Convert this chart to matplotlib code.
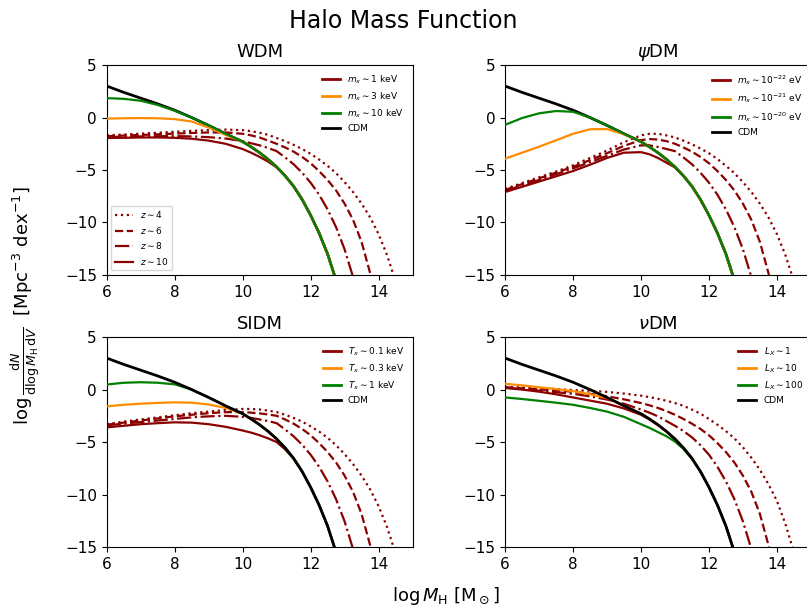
import matplotlib
matplotlib.use("Agg")
import matplotlib.pyplot as plt
from matplotlib.lines import Line2D

# log halo mass grid (each curve uses the first len(y) points)
logM = [6, 6.5, 7, 7.5, 8, 8.5, 9, 9.5, 10, 10.25, 10.5, 10.75, 11, 11.25, 11.5, 11.75,
        12, 12.25, 12.5, 12.75, 13, 13.25, 13.5, 13.75, 14, 14.25, 14.5]

cdm = [3.0, 2.4, 1.85, 1.3, 0.7, 0.0, -0.75, -1.55, -2.3, -2.8, -3.35, -3.98,
       -4.7, -5.55, -6.55, -7.8, -9.3, -11.0, -13.0, -15.5]

# high-mass tails, shared where curves follow CDM at that redshift
tail_z10 = [-4.75, -5.55, -6.55, -7.8, -9.3, -11.0, -13.0, -15.5]          # from 11.0
tail_z8 = [-3.2, -3.8, -4.45, -5.25, -6.2, -7.35, -8.75, -10.45, -12.55, -15.2]  # from 11.0
tail_z6 = [-2.5, -2.85, -3.25, -3.75, -4.35, -5.1, -5.95, -6.95, -8.2, -9.75,
           -11.85, -14.8, -18.5]                                             # from 11.0
tail_z4 = [-4.6, -5.3, -6.15, -7.1, -8.2, -9.5, -11.1, -13.1, -15.6]        # from 12.5

# WDM
wdm_1kev_z10 = [-1.95, -1.93, -1.9, -1.9, -1.93, -2.02, -2.2, -2.5, -3.0, -3.35, -3.75, -4.2] + tail_z10
wdm_1kev_z8 = [-1.85, -1.82, -1.8, -1.78, -1.77, -1.8, -1.87, -2.0, -2.25, -2.45, -2.65, -2.9] + tail_z8
wdm_1kev_z6 = [-1.78, -1.72, -1.66, -1.6, -1.53, -1.47, -1.42, -1.42, -1.55, -1.7, -1.9, -2.2] + tail_z6
wdm_1kev_z4 = [-1.7, -1.62, -1.54, -1.45, -1.36, -1.27, -1.2, -1.15, -1.2, -1.3, -1.45, -1.65,
               -1.95, -2.25, -2.6, -3.0, -3.45, -4.0] + tail_z4
wdm_3kev = [-0.1, -0.07, -0.05, -0.07, -0.15, -0.38, -0.95, -1.65, -2.3] + cdm[9:]
wdm_10kev = [1.85, 1.78, 1.6, 1.2, 0.65, 0.0, -0.75, -1.55, -2.3] + cdm[9:]

# psiDM
psi_22_z10 = [-7.1, -6.6, -6.1, -5.6, -5.1, -4.5, -3.85, -3.35, -3.3, -3.5, -3.85, -4.3] + tail_z10
psi_22_z8 = [-7.0, -6.45, -5.95, -5.4, -4.85, -4.25, -3.65, -3.05, -2.65, -2.65, -2.8, -3.0] + tail_z8
psi_22_z6 = [-6.9, -6.35, -5.8, -5.25, -4.7, -4.05, -3.4, -2.7, -2.15, -2.05, -2.1, -2.25] + tail_z6
psi_22_z4 = [-6.8, -6.25, -5.7, -5.15, -4.55, -3.85, -3.15, -2.35, -1.7, -1.55, -1.55, -1.7,
             -1.9, -2.2, -2.55, -2.95, -3.4, -3.95] + tail_z4
psi_21 = [-3.92, -3.35, -2.78, -2.17, -1.55, -1.12, -1.1, -1.6, -2.3] + cdm[9:]
psi_20 = [-0.7, -0.05, 0.4, 0.62, 0.55, 0.0, -0.75, -1.55, -2.3] + cdm[9:]

# SIDM
sidm_01_z10 = [-3.6, -3.45, -3.3, -3.2, -3.12, -3.15, -3.3, -3.55, -3.9, -4.1, -4.35, -4.65,
               -5.0, -5.7, -6.6] + tail_z10[3:]
sidm_01_z8 = [-3.4, -3.25, -3.1, -2.95, -2.8, -2.65, -2.55, -2.5, -2.6, -2.7, -2.85, -3.0] + tail_z8
sidm_01_z6 = [-3.35, -3.15, -2.95, -2.75, -2.55, -2.4, -2.25, -2.15, -2.15, -2.2, -2.27, -2.37] + tail_z6
sidm_01_z4 = [-3.3, -3.05, -2.85, -2.65, -2.45, -2.25, -2.1, -1.95, -1.85, -1.85, -1.9, -2.0,
              -2.15, -2.4, -2.7, -3.05, -3.5, -4.0] + tail_z4
sidm_03 = [-1.6, -1.45, -1.35, -1.27, -1.22, -1.25, -1.42, -1.75, -2.3] + cdm[9:]
sidm_1 = [0.48, 0.65, 0.7, 0.65, 0.5, 0.0, -0.75, -1.55, -2.3] + cdm[9:]

# nuDM
nu_1_z10 = [0.15, 0.0, -0.2, -0.45, -0.75, -1.05, -1.35, -1.8, -2.4, -2.85, -3.4, -4.0] + tail_z10
nu_1_z8 = [0.2, 0.05, -0.1, -0.25, -0.4, -0.65, -0.95, -1.35, -1.9, -2.2, -2.55, -3.0,
           -3.45, -3.95, -4.55, -5.3, -6.2] + tail_z8[5:]
nu_1_z6 = [0.22, 0.12, 0.02, -0.08, -0.2, -0.4, -0.64, -0.93, -1.28, -1.5, -1.75, -2.05,
           -2.4, -2.8, -3.25, -3.75, -4.35] + tail_z6[5:]
nu_1_z4 = [0.25, 0.2, 0.12, 0.05, -0.05, -0.12, -0.22, -0.38, -0.58, -0.72, -0.88, -1.07,
           -1.28, -1.55, -1.9, -2.3, -2.8, -3.35, -3.95, -4.65, -5.5, -6.5, -7.65, -9.0,
           -10.6, -12.8, -15.5]
nu_10 = [0.55, 0.4, 0.22, 0.05, -0.15, -0.45, -0.8, -1.55, -2.3] + cdm[9:]
nu_100 = [-0.75, -0.9, -1.07, -1.25, -1.45, -1.75, -2.1, -2.6, -3.3, -3.65, -4.05, -4.45,
          -4.95, -5.65, -6.6] + cdm[15:]

panels = [
    ("WDM", [r"$m_x \sim 1$ keV", r"$m_x \sim 3$ keV", r"$m_x \sim 10$ keV"],
     [wdm_1kev_z4, wdm_1kev_z6, wdm_1kev_z8, wdm_1kev_z10], wdm_3kev, wdm_10kev, False),
    (r"$\psi$DM", [r"$m_x \sim 10^{-22}$ eV", r"$m_x \sim 10^{-21}$ eV", r"$m_x \sim 10^{-20}$ eV"],
     [psi_22_z4, psi_22_z6, psi_22_z8, psi_22_z10], psi_21, psi_20, False),
    ("SIDM", [r"$T_x \sim 0.1$ keV", r"$T_x \sim 0.3$ keV", r"$T_x \sim 1$ keV"],
     [sidm_01_z4, sidm_01_z6, sidm_01_z8, sidm_01_z10], sidm_03, sidm_1, True),
    (r"$\nu$DM", [r"$L_X \sim 1$", r"$L_X \sim 10$", r"$L_X \sim 100$"],
     [nu_1_z4, nu_1_z6, nu_1_z8, nu_1_z10], nu_10, nu_100, True),
]

z_labels = [r"$z\sim4$", r"$z\sim6$", r"$z\sim8$", r"$z\sim10$"]
z_styles = [":", "--", "-.", "-"]

RED, ORANGE, GREEN = "darkred", "darkorange", "green"

fig = plt.figure(figsize=(8.07, 6.12), dpi=100)
positions = [[0.1322, 0.5507, 0.379, 0.343], [0.6258, 0.5507, 0.379, 0.343],
             [0.1322, 0.1062, 0.379, 0.343], [0.6258, 0.1062, 0.379, 0.343]]

for pos, (title, labels, reds, orange, green, cdm_top) in zip(positions, panels):
    ax = fig.add_axes(pos)
    zc = 5 if cdm_top else 1
    ax.plot(logM[:len(cdm)], cdm, color="black", lw=2, zorder=zc)
    for y, ls in zip(reds, z_styles):
        ax.plot(logM[:len(y)], y, color=RED, ls=ls, lw=1.6, zorder=2)
    ax.plot(logM[:len(orange)], orange, color=ORANGE, lw=1.6, zorder=3)
    ax.plot(logM[:len(green)], green, color=GREEN, lw=1.6, zorder=4)
    ax.set_xlim(6, 15)
    ax.set_ylim(-15, 5)
    ax.set_xticks([6, 8, 10, 12, 14])
    ax.set_yticks([5, 0, -5, -10, -15])
    ax.tick_params(labelsize=11)
    ax.set_title(title, fontsize=13)

    handles = [Line2D([], [], color=c, lw=2) for c in (RED, ORANGE, GREEN, "black")]
    leg = ax.legend(handles, labels + ["CDM"], loc="upper right", fontsize=6.5, frameon=False)
    if title == "WDM":
        ax.add_artist(leg)
        zh = [Line2D([], [], color=RED, ls=ls, lw=1.6) for ls in z_styles]
        ax.legend(zh, z_labels, loc="lower left", fontsize=6.5)

fig.suptitle("Halo Mass Function", fontsize=17, y=0.985)
fig.text(0.553, 0.018, r"$\log M_{\rm H}$ [M$_\odot$]", ha="center", fontsize=13)
fig.text(0.032, 0.5, r"$\log\frac{\mathrm{d}N}{\mathrm{d}\log M_{\rm H}\,\mathrm{d}V}$  [Mpc$^{-3}$ dex$^{-1}$]",
         rotation=90, va="center", ha="center", fontsize=13)

fig.savefig("out.png", dpi=100)
